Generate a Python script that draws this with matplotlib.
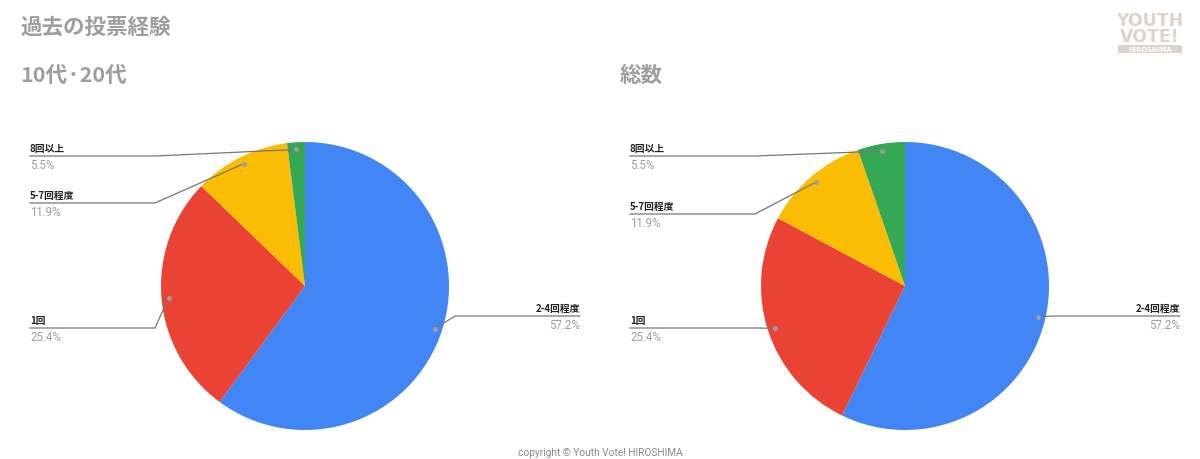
import numpy as np
import matplotlib
matplotlib.use("Agg")
import matplotlib.pyplot as plt

plt.rcParams['font.family'] = ['Noto Sans CJK JP', 'DejaVu Sans']

#%% data
categories = ["2-4回程度", "1回", "5-7回程度", "8回以上"]
colors = ["#4285F4", "#EA4335", "#FBBC04", "#34A853"]
# slice sizes
young_values = [60.1, 27.1, 10.8, 2.0]
total_values = [57.2, 25.6, 11.9, 5.3]
# percentages as printed on the chart (both pies show the same text)
young_labels = ["57.2%", "25.4%", "11.9%", "5.5%"]
total_labels = ["57.2%", "25.4%", "11.9%", "5.5%"]

W, H = 1200, 460
fig = plt.figure(figsize=(W / 100, H / 100), dpi=100)
fig.patch.set_facecolor("white")

R = 144
pies = [
    dict(cx=305, cy=287, values=young_values, labels=young_labels, title="10代·20代", tx=20,
         # line y per category, left-side x start
         rows={0: 317, 1: 329, 2: 204, 3: 157}, lx=30, rx=580),
    dict(cx=905, cy=287, values=total_values, labels=total_labels, title="総数", tx=620,
         rows={0: 317, 1: 329, 2: 215, 3: 157}, lx=630, rx=1180),
]

# overlay axis in pixel coords for text and leader lines
ov = fig.add_axes([0, 0, 1, 1], zorder=5)
ov.set_xlim(0, W)
ov.set_ylim(H, 0)
ov.axis("off")

for p in pies:
    ax = fig.add_axes([(p["cx"] - R) / W, (H - p["cy"] - R) / H, 2 * R / W, 2 * R / H])
    wedges, _ = ax.pie(p["values"], colors=colors, startangle=90, counterclock=False,
                       radius=1, wedgeprops=dict(linewidth=0))
    ax.set_xlim(-1, 1)
    ax.set_ylim(-1, 1)
    ax.axis("off")

    ov.text(p["tx"], 75, p["title"], fontsize=15.5, color="#9e9e9e", fontweight="bold",
            va="center", ha="left")

    for i, w in enumerate(wedges):
        mid = np.deg2rad((w.theta1 + w.theta2) / 2)
        dx = p["cx"] + 0.95 * R * np.cos(mid)
        dy = p["cy"] - 0.95 * R * np.sin(mid)
        ly = p["rows"][i]
        if i == 0:
            ex = p["rx"] - 125
            xs = [dx, ex, p["rx"]]
            x0, ha = p["rx"], "right"
        else:
            ex = p["lx"] + 125
            xs = [dx, ex, p["lx"]]
            x0, ha = p["lx"], "left"
        ov.plot(xs, [dy, ly, ly], color="#777777", lw=0.9, solid_joinstyle="miter")
        ov.plot(dx, dy, "o", ms=3.5, color="#9e9e9e", mec="none")
        ov.text(x0, ly - 3, categories[i], fontsize=7, fontweight="bold", color="#222222",
                ha=ha, va="bottom")
        ov.text(x0, ly + 2.5, p["labels"][i], fontsize=8.3, color="#9e9e9e", ha=ha, va="top",
                family="Roboto")

ov.text(20, 27, "過去の投票経験", fontsize=15.5, color="#9e9e9e", fontweight="bold",
        va="center", ha="left")

# logo
logo_c = "#ddd3cb"
ov.text(1150, 21, "YOUTH", fontsize=12.5, fontweight="bold", color=logo_c, ha="center",
        va="center", family="DejaVu Sans")
ov.text(1150, 37, "VOTE!", fontsize=12.5, fontweight="bold", color=logo_c, ha="center",
        va="center", family="DejaVu Sans")
ov.add_patch(plt.Rectangle((1118, 46), 64, 8, color=logo_c, lw=0))
ov.text(1150, 50.5, "HIROSHIMA", fontsize=4.8, fontweight="bold", color="white", ha="center",
        va="center", family="DejaVu Sans")

ov.text(600, 453, "copyright © Youth Vote! HIROSHIMA", fontsize=7.3, color="#888888",
        ha="center", va="center", family="Roboto")

fig.savefig("out.png", dpi=100, facecolor="white")
